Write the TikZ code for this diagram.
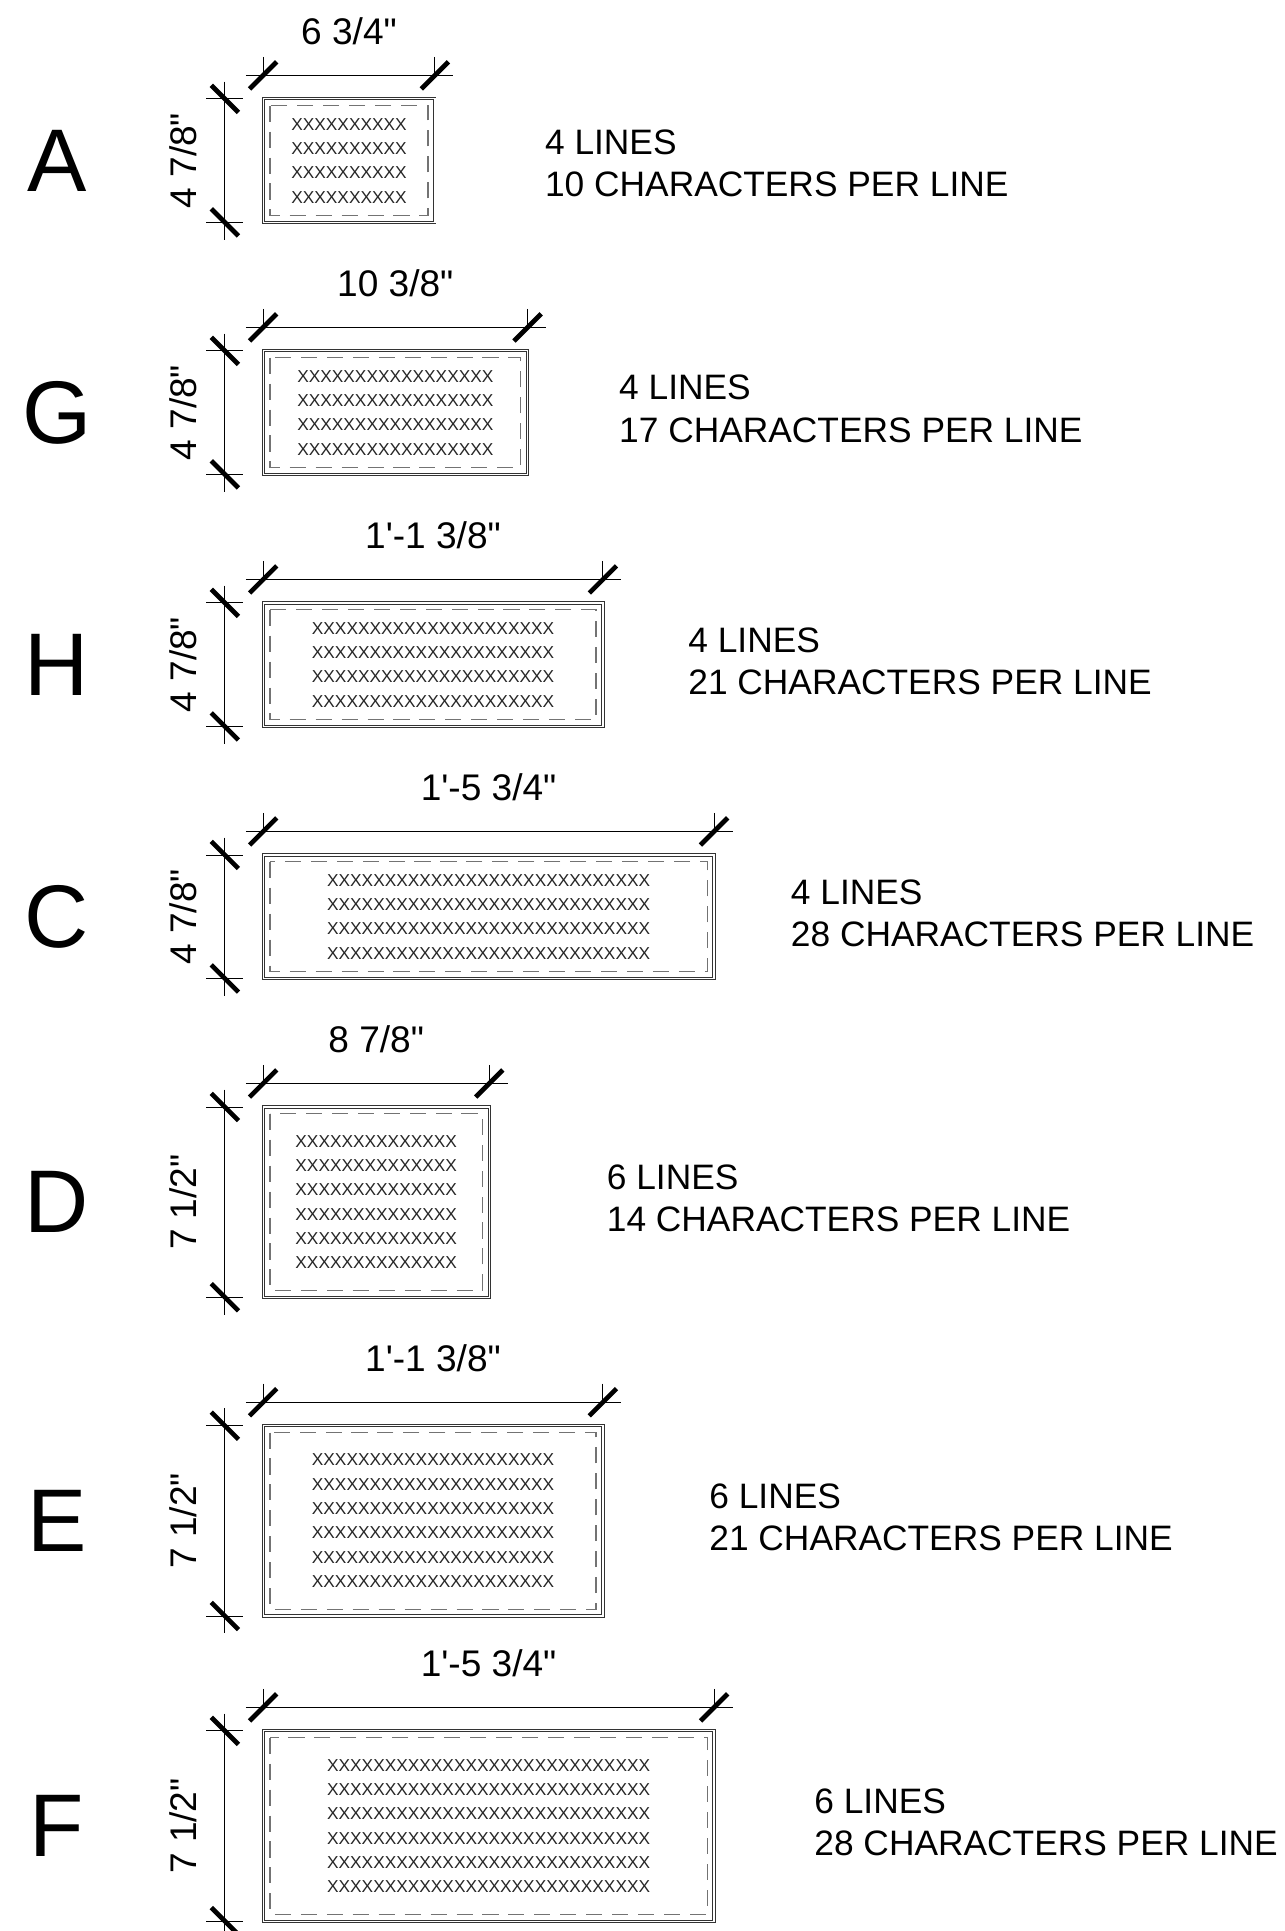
\documentclass[tikz,border=0pt]{standalone}
\usepackage{fontspec}
\setmainfont{Liberation Sans}[Ligatures=TeXOff]
\usepackage{xcolor}

\begin{document}
\begin{tikzpicture}[x=1pt,y=-1pt,
    letter/.style={font=\fontsize{72}{72}\selectfont, inner sep=0pt},
    grillebox/.style={line width=0.8pt, double distance=1pt, draw=black!80},
    dashbox/.style={draw=black!55, line width=1.1pt, dash pattern=on 13pt off 8pt},
    xrows/.style={font=\fontsize{14}{19.7}\selectfont, align=center, inner sep=0pt, text=black!85},
    dimline/.style={line width=0.7pt},
    dimtick/.style={line width=3.8pt},
    dimtxt/.style={font=\fontsize{30}{30}\selectfont, inner sep=0pt},
    note/.style={font=\fontsize{28.6}{34.2}\selectfont, align=left, anchor=west, inner sep=0pt}]
                \useasboundingbox (0,0) rectangle (1040,1563);

                % A
                \node[letter] (labA) at (46,130) {A};
                \draw[grillebox] (213,80) rectangle (352,180);
                \draw[dashbox] (218.5,85.5) rectangle (346.5,174.5);
                \node[xrows] (rowsA) at (282.5,130) {XXXXXXXXXX\\XXXXXXXXXX\\XXXXXXXXXX\\XXXXXXXXXX};
                \draw[dimline] (199,61) -- (367,61) (213,46) -- (213,61) (352,46) -- (352,61);
                \draw[dimline] (182,66) -- (182,194) (167,80) -- (197,80) (167,180) -- (197,180);
                \draw[dimtick] (213,61) +(-11,11) -- +(11,-11) (352,61) +(-11,11) -- +(11,-11);
                \draw[dimtick] (182,80) +(-11,-11) -- +(11,11) (182,180) +(-11,-11) -- +(11,11);
                \node[dimtxt] (wA) at (282.5,25) {6 3/4"};
                \node[dimtxt, rotate=90] (hA) at (148,130) {4 7/8"};
                \node[note] (noteA) at (441,132) {4 LINES\\10 CHARACTERS PER LINE};

                % G
                \node[letter] (labG) at (46,334) {G};
                \draw[grillebox] (213,284) rectangle (427,384);
                \draw[dashbox] (218.5,289.5) rectangle (421.5,378.5);
                \node[xrows] (rowsG) at (320,334) {XXXXXXXXXXXXXXXXX\\XXXXXXXXXXXXXXXXX\\XXXXXXXXXXXXXXXXX\\XXXXXXXXXXXXXXXXX};
                \draw[dimline] (199,265) -- (442,265) (213,250) -- (213,265) (427,250) -- (427,265);
                \draw[dimline] (182,270) -- (182,398) (167,284) -- (197,284) (167,384) -- (197,384);
                \draw[dimtick] (213,265) +(-11,11) -- +(11,-11) (427,265) +(-11,11) -- +(11,-11);
                \draw[dimtick] (182,284) +(-11,-11) -- +(11,11) (182,384) +(-11,-11) -- +(11,11);
                \node[dimtxt] (wG) at (320,229) {10 3/8"};
                \node[dimtxt, rotate=90] (hG) at (148,334) {4 7/8"};
                \node[note] (noteG) at (501,331) {4 LINES\\17 CHARACTERS PER LINE};

                % H
                \node[letter] (labH) at (46,538) {H};
                \draw[grillebox] (213,488) rectangle (488,588);
                \draw[dashbox] (218.5,493.5) rectangle (482.5,582.5);
                \node[xrows] (rowsH) at (350.5,538) {XXXXXXXXXXXXXXXXXXXXX\\XXXXXXXXXXXXXXXXXXXXX\\XXXXXXXXXXXXXXXXXXXXX\\XXXXXXXXXXXXXXXXXXXXX};
                \draw[dimline] (199,469) -- (503,469) (213,454) -- (213,469) (488,454) -- (488,469);
                \draw[dimline] (182,474) -- (182,602) (167,488) -- (197,488) (167,588) -- (197,588);
                \draw[dimtick] (213,469) +(-11,11) -- +(11,-11) (488,469) +(-11,11) -- +(11,-11);
                \draw[dimtick] (182,488) +(-11,-11) -- +(11,11) (182,588) +(-11,-11) -- +(11,11);
                \node[dimtxt] (wH) at (350.5,433) {1'-1 3/8"};
                \node[dimtxt, rotate=90] (hH) at (148,538) {4 7/8"};
                \node[note] (noteH) at (557,535) {4 LINES\\21 CHARACTERS PER LINE};

                % C
                \node[letter] (labC) at (46,742) {C};
                \draw[grillebox] (213,692) rectangle (578,792);
                \draw[dashbox] (218.5,697.5) rectangle (572.5,786.5);
                \node[xrows] (rowsC) at (395.5,742) {XXXXXXXXXXXXXXXXXXXXXXXXXXXX\\XXXXXXXXXXXXXXXXXXXXXXXXXXXX\\XXXXXXXXXXXXXXXXXXXXXXXXXXXX\\XXXXXXXXXXXXXXXXXXXXXXXXXXXX};
                \draw[dimline] (199,673) -- (593,673) (213,658) -- (213,673) (578,658) -- (578,673);
                \draw[dimline] (182,678) -- (182,806) (167,692) -- (197,692) (167,792) -- (197,792);
                \draw[dimtick] (213,673) +(-11,11) -- +(11,-11) (578,673) +(-11,11) -- +(11,-11);
                \draw[dimtick] (182,692) +(-11,-11) -- +(11,11) (182,792) +(-11,-11) -- +(11,11);
                \node[dimtxt] (wC) at (395.5,637) {1'-5 3/4"};
                \node[dimtxt, rotate=90] (hC) at (148,742) {4 7/8"};
                \node[note] (noteC) at (640,739) {4 LINES\\28 CHARACTERS PER LINE};

                % D
                \node[letter] (labD) at (46,973) {D};
                \draw[grillebox] (213,896) rectangle (396,1050);
                \draw[dashbox] (218.5,901.5) rectangle (390.5,1044.5);
                \node[xrows] (rowsD) at (304.5,973) {XXXXXXXXXXXXXX\\XXXXXXXXXXXXXX\\XXXXXXXXXXXXXX\\XXXXXXXXXXXXXX\\XXXXXXXXXXXXXX\\XXXXXXXXXXXXXX};
                \draw[dimline] (199,877) -- (411,877) (213,862) -- (213,877) (396,862) -- (396,877);
                \draw[dimline] (182,882) -- (182,1064) (167,896) -- (197,896) (167,1050) -- (197,1050);
                \draw[dimtick] (213,877) +(-11,11) -- +(11,-11) (396,877) +(-11,11) -- +(11,-11);
                \draw[dimtick] (182,896) +(-11,-11) -- +(11,11) (182,1050) +(-11,-11) -- +(11,11);
                \node[dimtxt] (wD) at (304.5,841) {8 7/8"};
                \node[dimtxt, rotate=90] (hD) at (148,973) {7 1/2"};
                \node[note] (noteD) at (491,970) {6 LINES\\14 CHARACTERS PER LINE};

                % E
                \node[letter] (labE) at (46,1231) {E};
                \draw[grillebox] (213,1154) rectangle (488,1308);
                \draw[dashbox] (218.5,1159.5) rectangle (482.5,1302.5);
                \node[xrows] (rowsE) at (350.5,1231) {XXXXXXXXXXXXXXXXXXXXX\\XXXXXXXXXXXXXXXXXXXXX\\XXXXXXXXXXXXXXXXXXXXX\\XXXXXXXXXXXXXXXXXXXXX\\XXXXXXXXXXXXXXXXXXXXX\\XXXXXXXXXXXXXXXXXXXXX};
                \draw[dimline] (199,1135) -- (503,1135) (213,1120) -- (213,1135) (488,1120) -- (488,1135);
                \draw[dimline] (182,1140) -- (182,1322) (167,1154) -- (197,1154) (167,1308) -- (197,1308);
                \draw[dimtick] (213,1135) +(-11,11) -- +(11,-11) (488,1135) +(-11,11) -- +(11,-11);
                \draw[dimtick] (182,1154) +(-11,-11) -- +(11,11) (182,1308) +(-11,-11) -- +(11,11);
                \node[dimtxt] (wE) at (350.5,1099) {1'-1 3/8"};
                \node[dimtxt, rotate=90] (hE) at (148,1231) {7 1/2"};
                \node[note] (noteE) at (574,1228) {6 LINES\\21 CHARACTERS PER LINE};

                % F
                \node[letter] (labF) at (46,1478) {F};
                \draw[grillebox] (213,1401) rectangle (578,1555);
                \draw[dashbox] (218.5,1406.5) rectangle (572.5,1549.5);
                \node[xrows] (rowsF) at (395.5,1478) {XXXXXXXXXXXXXXXXXXXXXXXXXXXX\\XXXXXXXXXXXXXXXXXXXXXXXXXXXX\\XXXXXXXXXXXXXXXXXXXXXXXXXXXX\\XXXXXXXXXXXXXXXXXXXXXXXXXXXX\\XXXXXXXXXXXXXXXXXXXXXXXXXXXX\\XXXXXXXXXXXXXXXXXXXXXXXXXXXX};
                \draw[dimline] (199,1382) -- (593,1382) (213,1367) -- (213,1382) (578,1367) -- (578,1382);
                \draw[dimline] (182,1387) -- (182,1569) (167,1401) -- (197,1401) (167,1555) -- (197,1555);
                \draw[dimtick] (213,1382) +(-11,11) -- +(11,-11) (578,1382) +(-11,11) -- +(11,-11);
                \draw[dimtick] (182,1401) +(-11,-11) -- +(11,11) (182,1555) +(-11,-11) -- +(11,11);
                \node[dimtxt] (wF) at (395.5,1346) {1'-5 3/4"};
                \node[dimtxt, rotate=90] (hF) at (148,1478) {7 1/2"};
                \node[note] (noteF) at (659,1475) {6 LINES\\28 CHARACTERS PER LINE};
            \end{tikzpicture}
\end{document}
